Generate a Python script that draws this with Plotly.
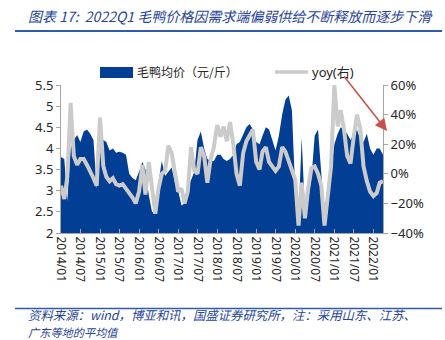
import pandas as pd
import plotly.graph_objects as go

# ---------------- data ----------------
months = pd.date_range("2014-01-01", periods=100, freq="MS")

price = [3.80, 3.75, 2.75, 4.00, 4.20, 4.32, 4.15, 4.40, 4.45, 4.35,
         4.20, 3.05, 3.95, 4.20, 4.15, 3.95, 4.00, 3.90, 3.92, 3.90,
         3.85, 3.40, 3.30, 3.25, 3.45, 3.68, 3.50, 2.90, 2.50, 2.45,
         3.20, 3.70, 3.35, 3.45, 3.55, 3.20, 3.00, 2.65, 2.70, 3.10,
         3.25, 3.45, 4.20, 4.40, 4.00, 3.75, 3.70, 3.70, 3.85, 3.85,
         3.75, 3.70, 3.75, 3.85, 4.10, 4.15, 4.35, 4.50, 4.58, 4.45,
         4.15, 4.10, 4.30, 4.50, 4.45, 4.20, 3.95, 4.30, 4.80, 5.15,
         5.25, 4.90, 3.00, 2.30, 4.25, 2.50, 2.80, 3.30, 4.30, 4.45,
         3.40, 2.15, 2.90, 3.50, 4.10, 4.35, 4.50, 4.45, 4.35, 4.20,
         4.35, 4.45, 4.20, 4.15, 4.35, 4.00, 3.85, 4.00, 4.00, 3.85]

yoy = [-0.08, -0.17, -0.02, 0.48, 0.12, 0.06, 0.10, 0.10, 0.06, 0.02,
       -0.03, -0.08, 0.38, 0.05, -0.02, -0.05, -0.03, -0.07, -0.08, -0.07,
       -0.10, -0.12, -0.16, -0.20, -0.12, 0.06, -0.14, 0.08, -0.10, -0.27,
       -0.10, 0.00, 0.02, 0.19, 0.14, 0.02, -0.12, -0.10, -0.20, -0.12,
       0.18, 0.02, 0.00, 0.18, 0.12, -0.06, 0.10, 0.18, 0.33, 0.25,
       0.32, 0.22, 0.35, 0.20, 0.00, -0.08, 0.14, 0.22, 0.26, 0.30,
       0.08, 0.03, 0.15, 0.18, 0.08, 0.05, 0.02, 0.05, 0.18, 0.15,
       0.08, 0.03, -0.04, -0.35, -0.06, -0.30, -0.10, 0.04, 0.05, 0.00,
       -0.08, -0.35, -0.15, 0.05, 0.60, 0.32, 0.43, 0.30, 0.12, 0.07,
       0.25, 0.40, 0.30, 0.05, -0.05, -0.12, -0.15, -0.13, -0.06, -0.05]

series_names = ["毛鸭均价（元/斤）", "yoy(右)"]
title_text = "图表 17:  2022Q1 毛鸭价格因需求端偏弱供给不断释放而逐步下滑"
source_lines = ["资料来源：wind，博亚和讯，国盛证券研究所，注：采用山东、江苏、",
                "广东等地的平均值"]

# ---------------- style ----------------
BLUE = "#023E94"
GRAY = "#CBCBCB"
AXIS = "#A6A6A6"
TXT = "#262626"
TITLE_BLUE = "#27449A"
CJK = "Noto Sans CJK SC"
W, H = 445, 340
L, R, T, B = 61, 62, 85, 107
PW, PH = W - L - R, H - T - B


def px(x):
    return (x - L) / PW


def py(y):
    return (H - B - y) / PH


fig = go.Figure()
fig.add_trace(go.Scatter(x=months, y=price, name=series_names[0], fill="tozeroy",
                         mode="lines", line=dict(width=0, color=BLUE),
                         fillcolor=BLUE, showlegend=False))
fig.add_trace(go.Scatter(x=months, y=yoy, name=series_names[1], yaxis="y2",
                         mode="lines", line=dict(width=4, color=GRAY),
                         showlegend=False))

fig.update_layout(
    width=W, height=H,
    margin=dict(l=L, r=R, t=T, b=B),
    paper_bgcolor="white", plot_bgcolor="white",
    font=dict(family=f"'Noto Sans', '{CJK}'", size=12, color=TXT),
    xaxis=dict(type="date", range=[months[0], months[-1]],
               tick0="2014-01-01", dtick="M6", tickformat="%Y/%m",
               tickangle=90, ticks="inside", ticklen=4, tickcolor=AXIS,
               showline=True, linecolor=AXIS, showgrid=False,
               tickfont=dict(size=12, color=TXT)),
    yaxis=dict(range=[2, 5.5], dtick=0.5, tick0=2, showgrid=False,
               showline=True, linecolor=AXIS, ticks="outside", ticklen=4,
               tickcolor=AXIS, tickfont=dict(size=13, color=TXT), zeroline=False),
    yaxis2=dict(range=[-0.4, 0.6], dtick=0.2, tick0=-0.4, overlaying="y",
                side="right", tickformat=".0%", showgrid=False,
                showline=True, linecolor=AXIS, ticks="outside", ticklen=4,
                tickcolor=AXIS, tickfont=dict(size=13, color=TXT), zeroline=False),
)

shapes = [
    # title rule and footer rule
    dict(type="line", xref="paper", yref="paper", x0=px(15), x1=px(442),
         y0=py(31), y1=py(31), line=dict(color="#2F5BAA", width=2)),
    dict(type="line", xref="paper", yref="paper", x0=px(15), x1=px(442),
         y0=py(308.5), y1=py(308.5), line=dict(color="#2F5BAA", width=1.5)),
    # legend swatches
    dict(type="rect", xref="paper", yref="paper", x0=px(100), x1=px(133),
         y0=py(78), y1=py(67), fillcolor=BLUE, line=dict(width=0)),
    dict(type="line", xref="paper", yref="paper", x0=px(275), x1=px(308),
         y0=py(72), y1=py(72), line=dict(color=GRAY, width=3.5)),
]
fig.update_layout(shapes=shapes)

annotations = [
    dict(text=f"<i>{title_text}</i>", xref="paper", yref="paper", x=px(26), y=py(16),
         xanchor="left", yanchor="middle", showarrow=False,
         font=dict(family=CJK, size=14, color=TITLE_BLUE)),
    dict(text=series_names[0], xref="paper", yref="paper", x=px(135), y=py(72),
         xanchor="left", yanchor="middle", showarrow=False,
         font=dict(family=CJK, size=12, color=TXT)),
    dict(text=series_names[1], xref="paper", yref="paper", x=px(310), y=py(72),
         xanchor="left", yanchor="middle", showarrow=False,
         font=dict(family=f"'Noto Sans', '{CJK}'", size=13, color=TXT)),
    dict(text=f"<i>{source_lines[0]}</i>", xref="paper", yref="paper", x=px(26), y=py(314.5),
         xanchor="left", yanchor="middle", showarrow=False,
         font=dict(family=CJK, size=12.4, color=TITLE_BLUE)),
    dict(text=f"<i>{source_lines[1]}</i>", xref="paper", yref="paper", x=px(26), y=py(331.8),
         xanchor="left", yanchor="middle", showarrow=False,
         font=dict(family=CJK, size=11.2, color=TITLE_BLUE)),
    # red arrow
    dict(text="", xref="paper", yref="paper", x=px(387), y=py(131),
         ax=343 - 387, ay=75 - 131, showarrow=True, arrowhead=2,
         arrowsize=1.6, arrowwidth=1.5, arrowcolor="#C9504B"),
]
fig.update_layout(annotations=annotations)

fig.write_html("out.html")
